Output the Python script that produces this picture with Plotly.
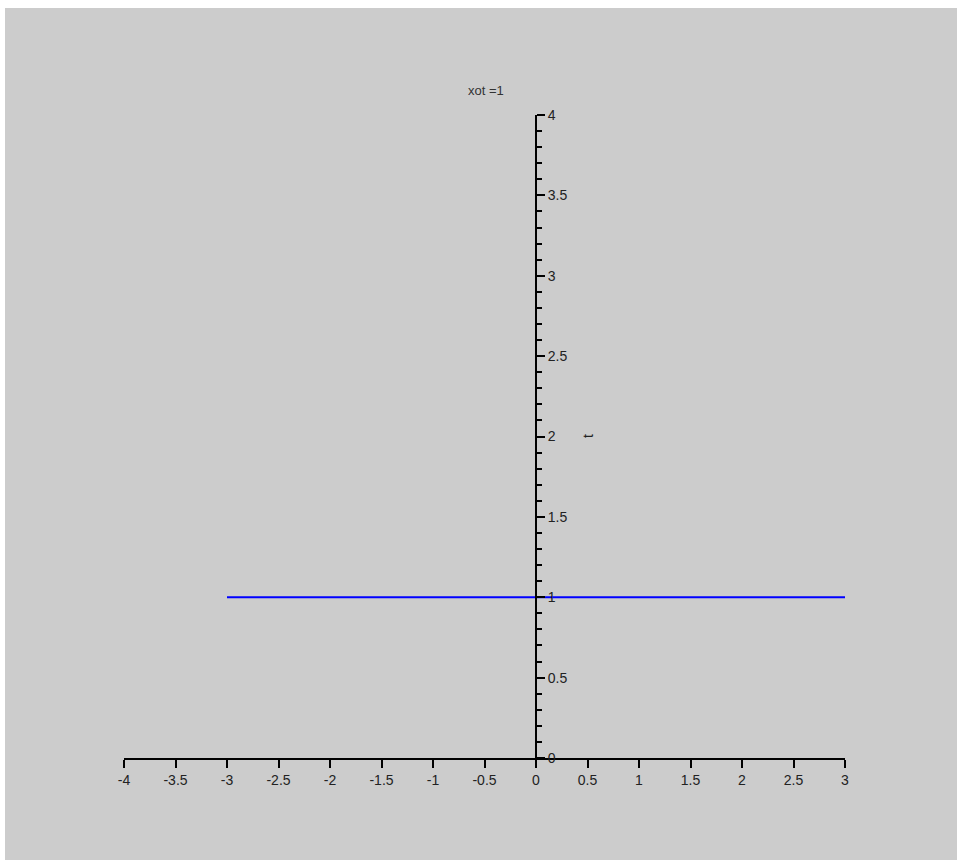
import plotly.graph_objects as go

# data
line_x = [-3, 3]
line_y = [1, 1]
x_ticks = [-4, -3.5, -3, -2.5, -2, -1.5, -1, -0.5, 0, 0.5, 1, 1.5, 2, 2.5, 3]
x_ticklabels = ["-4", "-3.5", "-3", "-2.5", "-2", "-1.5", "-1", "-0.5", "0", "0.5", "1", "1.5", "2", "2.5", "3"]
y_ticks = [0, 0.5, 1, 1.5, 2, 2.5, 3, 3.5, 4]
y_ticklabels = ["0", "0.5", "1", "1.5", "2", "2.5", "3", "3.5", "4"]
title_text = "xot =1"
ylabel_text = "t"

OFFX, OFFY = 5, 8  # page offset of the figure
W, H = 957 - OFFX, 860 - OFFY
L = 124 - OFFX
T = 115 - OFFY
R = W - (845 - OFFX)
B = H - (758 - OFFY)
xr = [-4, 3]
yr = [0, 4]
pw = W - L - R
ph = H - T - B

def px_to_paper_x(px):
    return (px - OFFX - L) / pw

def px_to_paper_y(py):
    return (H - B - (py - OFFY)) / ph

fig = go.Figure()
fig.add_trace(go.Scatter(x=line_x, y=line_y, mode="lines",
                         line=dict(color="#0000ff", width=2),
                         showlegend=False, hoverinfo="skip"))

font = dict(family="Liberation Sans, Arial, sans-serif", size=14, color="#222222")

fig.update_layout(
    width=W, height=H,
    margin=dict(l=L, r=R, t=T, b=B, pad=0),
    paper_bgcolor="#cccccc",
    plot_bgcolor="#cccccc",
    showlegend=False,
    font=font,
    xaxis=dict(range=xr, domain=[0, 1], showgrid=False, zeroline=False,
               showline=True, linecolor="black", linewidth=2,
               ticks="outside", ticklen=8, tickwidth=2, tickcolor="black",
               tickvals=x_ticks, ticktext=x_ticklabels,
               anchor="y", tickfont=font),
    yaxis=dict(range=yr, domain=[0, 1], showgrid=False, zeroline=False,
               showline=True, linecolor="black", linewidth=2,
               anchor="free", position=(0 - xr[0]) / (xr[1] - xr[0]),
               side="right",
               ticks="outside", ticklen=8, tickwidth=2, tickcolor="black",
               tickvals=y_ticks, ticktext=y_ticklabels, tickfont=font,
               minor=dict(ticks="outside", ticklen=5, tickwidth=2,
                          tickcolor="black", dtick=0.1, showgrid=False)),
    annotations=[
        dict(text=title_text, xref="paper", yref="paper",
             x=px_to_paper_x(486), y=px_to_paper_y(91),
             showarrow=False, xanchor="center", yanchor="middle",
             font=dict(family="Liberation Sans, Arial, sans-serif", size=13, color="#333333")),
        dict(text=ylabel_text, xref="paper", yref="paper",
             x=px_to_paper_x(588), y=px_to_paper_y(436),
             showarrow=False, xanchor="center", yanchor="middle", textangle=-90,
             font=dict(family="Liberation Sans, Arial, sans-serif", size=14, color="#222222")),
    ],
)

post = (
    "document.body.style.margin='%dpx 0 0 %dpx';"
    "document.body.style.overflow='hidden';"
) % (OFFY, OFFX)

fig.write_html("out.html", post_script=post)
